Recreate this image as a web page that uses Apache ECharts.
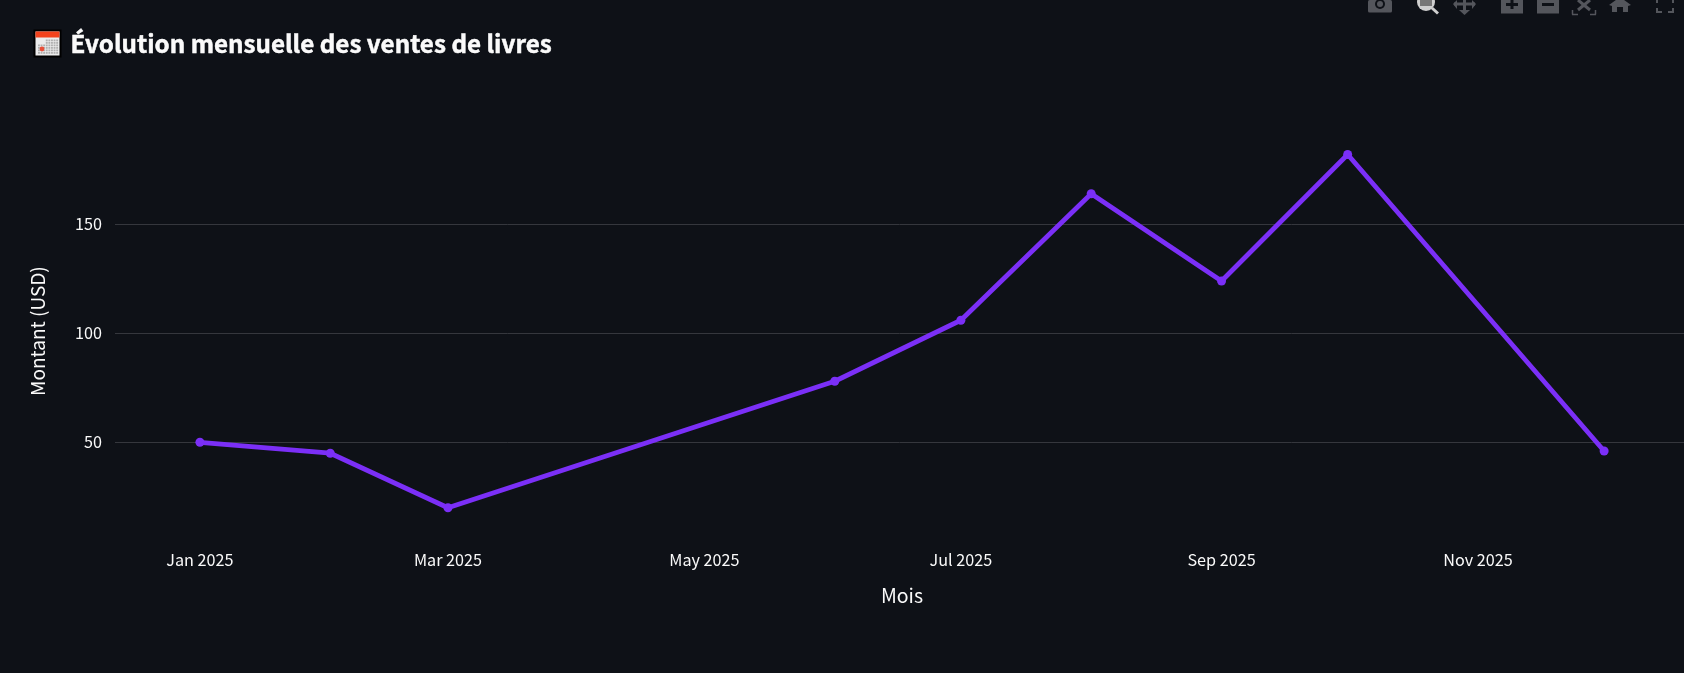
<!DOCTYPE html>
<html><head><meta charset="utf-8">
<style>html,body{margin:0;padding:0;background:#0E1117;}#c{width:1684px;height:673px;}</style>
<script src="https://cdn.jsdelivr.net/npm/echarts@6/dist/echarts.min.js"></script>
</head><body><div id="c"></div>
<script>
const months = ['2025-01-01','2025-02-01','2025-03-01','2025-06-01','2025-07-01','2025-08-01','2025-09-01','2025-10-01','2025-12-01'];
const amounts = [50,45,20,78,106,164,124,182,46];
const xTickDates = ['2025-01-01','2025-03-01','2025-05-01','2025-07-01','2025-09-01','2025-11-01'];
const xTickLabels = ['Jan 2025','Mar 2025','May 2025','Jul 2025','Sep 2025','Nov 2025'];
const titleText = 'Évolution mensuelle des ventes de livres';
const FONT = '"Noto Sans CJK SC","Noto Sans",sans-serif';
const ts = s => new Date(s+'T00:00:00Z').getTime();
const tickMap = {}; xTickDates.forEach((d,i)=>tickMap[ts(d)]=xTickLabels[i]);
const chart = echarts.init(document.getElementById('c'),null,{renderer:'canvas'});
const G='#54565c', dark='#0E1117';
const box=(x,y,w,h,fill,r)=>({type:'rect',shape:{x,y,width:w,height:h,r:r||0},style:{fill}});
const calendarCells=[];
for(let r=0;r<6;r++)for(let c=0;c<8;c++){ if(r<2&&c<3) continue;
  calendarCells.push(box(38+c*2.6,39.5+r*2.5,1.9,1.8,'#b0b0b0')); }
chart.setOption({
  backgroundColor:'#0E1117',
  animation:false,
  title:{text:titleText,left:65.5,top:26.5,textStyle:{color:'#fafafa',fontFamily:FONT,fontSize:24.2,fontWeight:'bold',textBorderColor:'#fafafa',textBorderWidth:0.5}},
  grid:{left:115,right:0,top:115.3,bottom:121.7,containLabel:false},
  xAxis:{type:'value',min:ts('2024-12-11')+0.8*864e5,max:ts('2025-12-20'),
    name:'Mois',nameLocation:'middle',nameGap:35,nameTextStyle:{color:'#fafafa',fontFamily:FONT,fontSize:19.5,padding:[0,0,0,5]},
    axisLine:{show:false},axisTick:{show:false},splitLine:{show:false},
    axisLabel:{color:'#fafafa',fontFamily:FONT,fontSize:16.2,margin:0,hideOverlap:false,customValues:xTickDates.map(ts),
      formatter:v=>tickMap[v]||''}},
  yAxis:{type:'value',min:0,max:200,interval:50,
    name:'Montant (USD)',nameLocation:'middle',nameGap:68,nameTextStyle:{color:'#fafafa',fontFamily:FONT,fontSize:19,padding:[0,0,0,4.4]},
    axisLine:{show:false},axisTick:{show:false},
    splitLine:{show:true,showMinLine:false,showMaxLine:false,lineStyle:{color:'#35373d',width:1}},
    axisLabel:{color:'#fafafa',fontFamily:FONT,fontSize:16.2,margin:13,showMinLabel:false,showMaxLabel:false}},
  series:[{type:'line',data:months.map((m,i)=>[ts(m),amounts[i]]),
    symbol:'circle',symbolSize:9,showSymbol:true,clip:false,
    lineStyle:{color:'#7B2FF7',width:4.8},itemStyle:{color:'#7B2FF7'}}],
  graphic:[
    box(33.5,29.5,28,28,'#000'),
    box(35.5,31.5,24,24,'#ececec'),
    box(35.5,31.5,24,6,'#f4421c'),
    ...calendarCells,
    {type:'circle',shape:{cx:42,cy:49,r:2.4},style:{fill:'#e8503a'}},
    // toolbar: camera
    box(1368,0,24,12.5,G,1.5),
    {type:'circle',shape:{cx:1380,cy:4,r:5},style:{fill:dark}},
    {type:'circle',shape:{cx:1380,cy:4,r:3},style:{fill:G}},
    // zoom (active)
    {type:'circle',shape:{cx:1426,cy:2,r:9},style:{fill:'#cfcfcf'}},
    box(1420,0,12,6,'#777'),
    {type:'line',shape:{x1:1432,y1:8,x2:1438,y2:13.5},style:{stroke:'#cfcfcf',lineWidth:3}},
    // pan
    {type:'line',shape:{x1:1454,y1:4,x2:1475,y2:4},style:{stroke:G,lineWidth:3}},
    {type:'line',shape:{x1:1464.5,y1:0,x2:1464.5,y2:13},style:{stroke:G,lineWidth:3}},
    {type:'polygon',shape:{points:[[1459,10],[1470,10],[1464.5,15]]},style:{fill:G}},
    {type:'polygon',shape:{points:[[1457,0],[1457,9],[1453,4]]},style:{fill:G}},
    {type:'polygon',shape:{points:[[1472,0],[1472,9],[1476,4]]},style:{fill:G}},
    // plus
    box(1501,0,22,13.5,G),
    box(1510.5,0,3,9,dark),
    box(1506,3,12,3,dark),
    // minus
    box(1537,0,22,13.5,G),
    box(1542,3,12,3,dark),
    // autoscale
    {type:'line',shape:{x1:1572.5,y1:10,x2:1572.5,y2:14.5},style:{stroke:G,lineWidth:1.5}},
    {type:'line',shape:{x1:1572,y1:14.5,x2:1578,y2:14.5},style:{stroke:G,lineWidth:1.5}},
    {type:'line',shape:{x1:1595.5,y1:10,x2:1595.5,y2:14.5},style:{stroke:G,lineWidth:1.5}},
    {type:'line',shape:{x1:1590,y1:14.5,x2:1596,y2:14.5},style:{stroke:G,lineWidth:1.5}},
    {type:'line',shape:{x1:1578,y1:0,x2:1590,y2:10},style:{stroke:G,lineWidth:3}},
    {type:'line',shape:{x1:1590,y1:0,x2:1578,y2:10},style:{stroke:G,lineWidth:3}},
    // home
    {type:'polygon',shape:{points:[[1609,5],[1620,-3],[1631,5],[1628,6],[1628,12],[1623,12],[1623,7],[1617,7],[1617,12],[1612,12],[1612,6]]},style:{fill:G}},
    // fullscreen
    {type:'line',shape:{x1:1657,y1:8,x2:1657,y2:12.5},style:{stroke:G,lineWidth:2}},
    {type:'line',shape:{x1:1656,y1:12,x2:1662,y2:12},style:{stroke:G,lineWidth:2}},
    {type:'line',shape:{x1:1673,y1:8,x2:1673,y2:12.5},style:{stroke:G,lineWidth:2}},
    {type:'line',shape:{x1:1668,y1:12,x2:1674,y2:12},style:{stroke:G,lineWidth:2}},
    box(1656,0,2,3,G),box(1672,0,2,3,G)
  ]
});
</script></body></html>
